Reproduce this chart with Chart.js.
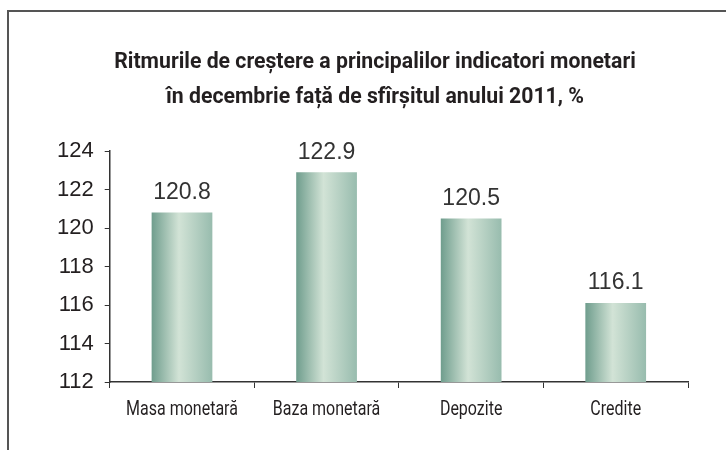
<!DOCTYPE html>
<html>
<head>
<meta charset="utf-8">
<script src="https://cdn.jsdelivr.net/npm/chart.js@4/dist/chart.umd.min.js"></script>
<style>
  html, body { margin: 0; padding: 0; background: #fff; }
  #wrap { position: relative; width: 726px; height: 450px; }
  #frame { position: absolute; left: 7px; top: 10px; right: 0; bottom: 0;
           border-top: 2px solid #555; border-left: 2px solid #555; }
  canvas { position: absolute; left: 0; top: 0; }
</style>
</head>
<body>
<div id="wrap">
  <div id="frame"></div>
  <canvas id="ratesChart" width="726" height="450"></canvas>
</div>
<script>
const categories = ['Masa monetară', 'Baza monetară', 'Depozite', 'Credite'];
const growthRates = [120.8, 122.9, 120.5, 116.1];
const titleLines = ['Ritmurile de creștere a principalilor indicatori monetari',
                    'în decembrie față de sfîrșitul anului 2011, %'];

const condensed = "Roboto, 'Liberation Sans', sans-serif";
const plain = "'Liberation Sans', Arial, sans-serif";

// draw text squeezed horizontally (no condensed face installed)
function narrowText(ctx, text, x, y, squeeze) {
  ctx.save();
  ctx.translate(x, y);
  ctx.scale(squeeze, 1);
  ctx.fillText(text, 0, 0);
  ctx.restore();
}

const titleAndLabels = {
  id: 'titleAndLabels',
  afterDraw(chart) {
    const ctx = chart.ctx;
    const xs = chart.scales.x;
    ctx.save();
    ctx.fillStyle = '#231f20';
    ctx.textAlign = 'center';
    ctx.textBaseline = 'alphabetic';
    ctx.font = 'bold 22px ' + condensed;
    narrowText(ctx, titleLines[0], 375, 68, 0.965);
    narrowText(ctx, titleLines[1], 375, 103, 0.965);
    ctx.font = '20px ' + condensed;
    categories.forEach((c, i) => {
      narrowText(ctx, c, xs.getPixelForValue(i), xs.bottom + 27, 0.8);
    });
    ctx.restore();
  }
};

const valueLabels = {
  id: 'valueLabels',
  afterDatasetsDraw(chart) {
    const ctx = chart.ctx;
    ctx.save();
    ctx.font = '23px ' + plain;
    ctx.fillStyle = '#333';
    ctx.textAlign = 'center';
    ctx.textBaseline = 'middle';
    chart.getDatasetMeta(0).data.forEach((bar, i) => {
      ctx.fillText(growthRates[i].toFixed(1), bar.x, bar.y - 20);
    });
    ctx.restore();
  }
};

// cylinder-ish shading across each bar
function barShade(context) {
  const chart = context.chart;
  const xs = chart.scales.x;
  if (!xs || !xs.width) return '#a8c6b9';
  const w = xs.width / categories.length * 0.42;
  const x0 = xs.getPixelForValue(context.dataIndex) - w / 2;
  const g = chart.ctx.createLinearGradient(x0, 0, x0 + w, 0);
  g.addColorStop(0, '#6f9d8d');
  g.addColorStop(0.45, '#d2e3d6');
  g.addColorStop(1, '#98bcae');
  return g;
}

document.addEventListener("DOMContentLoaded", () => {
  const ctx = document.getElementById('ratesChart').getContext('2d');
  new Chart(ctx, {
    type: 'bar',
    data: {
      labels: categories,
      datasets: [{
        data: growthRates,
        backgroundColor: barShade,
        borderWidth: 0,
        categoryPercentage: 1,
        barPercentage: 0.42
      }]
    },
    options: {
      responsive: false,
      animation: false,
      layout: { padding: { top: 151, right: 38, bottom: 62, left: 46 } },
      plugins: {
        legend: { display: false },
        tooltip: { enabled: false },
        title: { display: false }
      },
      scales: {
        x: {
          offset: true,
          grid: { offset: true, drawOnChartArea: false, drawTicks: true, tickLength: 6, color: '#333' },
          border: { color: '#333', width: 1.5 },
          ticks: { display: false }
        },
        y: {
          min: 112,
          max: 124,
          grid: { drawOnChartArea: false, drawTicks: true, tickLength: 5, color: '#333' },
          border: { color: '#333', width: 1.5 },
          ticks: { stepSize: 2, color: '#231f20', font: { family: plain, size: 22 }, padding: 11 }
        }
      }
    },
    plugins: [valueLabels, titleAndLabels]
  });
});
</script>
</body>
</html>
